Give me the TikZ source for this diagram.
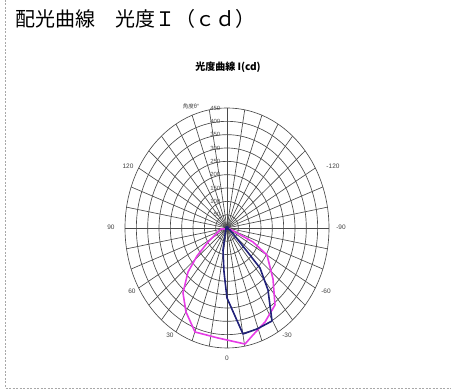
\documentclass[tikz,border=0pt]{standalone}
\usepackage{fontspec}
\usetikzlibrary{calc}
\setmainfont{Liberation Sans}
\newfontfamily\cjk{Noto Sans CJK JP}
\definecolor{gridc}{HTML}{4A4A4A}
\definecolor{magc}{HTML}{E63CE6}
\definecolor{navc}{HTML}{22227A}
\definecolor{framec}{HTML}{A8A8A8}
\begin{document}
\begin{tikzpicture}[x=1pt,y=1pt,
  gridline/.style={draw=gridc,line width=0.65pt},
  ticklab/.style={font=\fontsize{6}{7}\selectfont,text=black!70,inner sep=0.5pt},
  anglab/.style={font=\fontsize{6.5}{7}\selectfont,text=black!75,inner sep=0.5pt},
  curvem/.style={draw=magc,line width=1.6pt,line join=round},
  curven/.style={draw=navc,line width=1.6pt,line join=round}]
\useasboundingbox (0,0) rectangle (451,390);
% frame
\draw[framec,line width=0.8pt,dash pattern=on 2pt off 1.5pt] (5,390) -- (5,2) -- (451,2);
% titles
\node[anchor=west,inner sep=0pt,font=\cjk\fontsize{20}{22}\selectfont] (title) at (15,371) {配光曲線　光度Ｉ（ｃｄ）};
\node[inner sep=0pt,font=\cjk\bfseries\fontsize{10}{12}\selectfont] (sub) at (228,323) {光度曲線\ I(cd)};
% polar grid
\coordinate (C) at (227,162);
\foreach \k in {1,...,9}{
  \draw[gridline] (C) ellipse [x radius=\k*102/9, y radius=\k*120/9];
}
\foreach \a in {0,10,...,350}{
  \draw[gridline] (C) -- ($(C)+({102*cos(\a)},{120*sin(\a)})$);
}
% radial tick labels
\foreach \k/\v in {1/50,2/100,3/150,4/200,5/250,6/300,7/350,8/400,9/450}{
  \node[ticklab,anchor=east] (t\k) at (221,{162+\k*120/9}) {\v};
}
\node[anglab,font=\cjk\fontsize{5.5}{6}\selectfont] (theta) at (191,284) {角度θ°};
% angle labels
\node[anglab] (a120) at (128,224) {120};
\node[anglab] (am120) at (333,224) {-120};
\node[anglab] (a90) at (111,163) {90};
\node[anglab] (am90) at (341,163) {-90};
\node[anglab] (a60) at (132,99) {60};
\node[anglab] (am60) at (326,99) {-60};
\node[anglab] (a30) at (170,55) {30};
\node[anglab] (am30) at (287,55) {-30};
\node[anglab] (a0) at (227,32) {0};
% curves
\draw[curvem] (221,161) -- (208,148) -- (197,134) -- (188,118) -- (183,97) -- (186,78) -- (195,58) -- (218,52) -- (245,46) -- (253,55) -- (265,68) -- (275,85) -- (273,111) -- (267,135) -- (253,148) -- (230,161) -- cycle;
\draw[curven] (226,162) -- (223,140) -- (224,118) -- (227,92) -- (243,56) -- (257,61) -- (272,69) -- (268,100) -- (260,122) -- (246,140) -- (230,160) -- cycle;
\fill[navc] (227,162) circle (2pt);
\end{tikzpicture}
\end{document}
